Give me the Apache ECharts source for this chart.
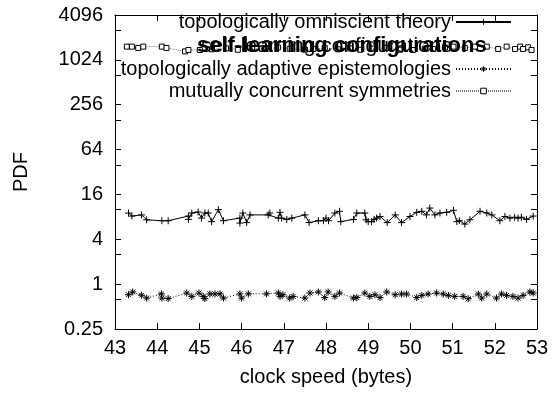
<!DOCTYPE html>
<html>
<head>
<meta charset="utf-8">
<script src="https://cdn.jsdelivr.net/npm/echarts@6/dist/echarts.min.js"></script>
<style>
  html, body { margin: 0; padding: 0; background: #fff; }
  #main { width: 553px; height: 395px; }
</style>
</head>
<body>
<div id="main"></div>
<script>
// topologically omniscient theory  [clock speed, PDF]
const omniscientX = [43.32, 43.40, 43.63, 43.75, 44.11, 44.26, 44.74, 44.74, 44.82, 44.97, 45.05, 45.13, 45.21, 45.29, 45.45, 45.57, 45.96, 45.96, 46.03, 46.12, 46.20, 46.63, 46.67, 46.87, 46.91, 46.95, 47.07, 47.19, 47.50, 47.60, 47.82, 47.94, 48.00, 48.06, 48.21, 48.32, 48.35, 48.65, 48.73, 48.92, 48.95, 49.00, 49.08, 49.14, 49.20, 49.28, 49.45, 49.64, 49.79, 49.99, 50.15, 50.27, 50.38, 50.46, 50.58, 50.70, 50.86, 51.02, 51.10, 51.16, 51.29, 51.41, 51.65, 51.81, 51.93, 52.12, 52.24, 52.36, 52.47, 52.55, 52.63, 52.75, 52.91];
const omniscientY = [9.0, 8.2, 8.5, 7.3, 7.1, 7.1, 8.2, 7.4, 9.0, 9.3, 7.7, 9.0, 9.0, 6.9, 10.0, 7.1, 7.7, 6.6, 9.0, 6.7, 8.5, 8.5, 9.0, 7.7, 9.2, 7.7, 7.4, 7.7, 8.5, 6.7, 7.1, 7.1, 7.7, 7.1, 9.0, 9.5, 6.9, 7.4, 9.0, 9.0, 7.3, 6.9, 6.9, 7.4, 7.7, 8.1, 6.7, 8.5, 6.7, 8.1, 9.2, 9.5, 8.5, 10.5, 8.5, 9.0, 9.2, 9.8, 6.9, 7.1, 6.4, 7.3, 9.5, 9.0, 8.5, 7.1, 8.1, 7.7, 7.9, 7.7, 7.9, 7.4, 8.2];

// topologically adaptive epistemologies
const adaptiveX = [43.32, 43.42, 43.63, 43.75, 44.10, 44.11, 44.26, 44.70, 44.82, 44.99, 45.09, 45.13, 45.25, 45.37, 45.49, 45.57, 45.96, 46.00, 46.16, 46.59, 46.87, 46.91, 46.98, 47.14, 47.22, 47.50, 47.62, 47.82, 47.97, 48.05, 48.21, 48.32, 48.65, 48.73, 48.92, 49.04, 49.16, 49.28, 49.44, 49.64, 49.79, 49.91, 50.15, 50.27, 50.42, 50.62, 50.78, 50.90, 51.05, 51.25, 51.37, 51.61, 51.69, 51.81, 52.04, 52.16, 52.28, 52.43, 52.55, 52.67, 52.83, 52.91];
const adaptiveY = [0.72, 0.785, 0.71, 0.65, 0.74, 0.65, 0.64, 0.76, 0.685, 0.76, 0.685, 0.64, 0.74, 0.74, 0.74, 0.65, 0.74, 0.65, 0.74, 0.74, 0.76, 0.685, 0.72, 0.65, 0.685, 0.65, 0.76, 0.785, 0.66, 0.785, 0.685, 0.76, 0.65, 0.66, 0.76, 0.685, 0.72, 0.66, 0.785, 0.72, 0.737, 0.737, 0.66, 0.707, 0.737, 0.76, 0.737, 0.707, 0.685, 0.685, 0.637, 0.737, 0.65, 0.737, 0.65, 0.737, 0.707, 0.685, 0.65, 0.707, 0.785, 0.76];

// mutually concurrent symmetries
const symmetriesX = [43.28, 43.40, 43.55, 43.67, 44.11, 44.22, 44.66, 44.74, 45.01, 45.30, 45.63, 45.91, 46.25, 46.55, 46.86, 47.14, 47.50, 47.70, 47.97, 48.28, 48.57, 48.81, 49.12, 49.42, 49.75, 50.06, 50.34, 50.54, 50.82, 51.02, 51.29, 51.53, 51.81, 52.08, 52.28, 52.48, 52.60, 52.67, 52.79, 52.87];
const symmetriesY = [1541, 1541, 1480, 1541, 1541, 1480, 1330, 1390, 1390, 1420, 1460, 1400, 1480, 1430, 1500, 1440, 1400, 1434, 1480, 1420, 1460, 1400, 1450, 1480, 1400, 1390, 1450, 1434, 1500, 1541, 1480, 1541, 1541, 1434, 1541, 1434, 1541, 1434, 1509, 1390];

const yTicks = [0.25, 1, 4, 16, 64, 256, 1024, 4096];

const FONT = 'Liberation Sans, Arial, Helvetica, sans-serif';
const plusSym = 'path://M0,5L10,5M5,0L5,10';
const starSym = 'path://M0,5L10,5M5,0L5,10M1.5,1.5L8.5,8.5M8.5,1.5L1.5,8.5';

function zip(xs, ys) {
    return xs.map((x, i) => [x, ys[i]]);
}

let chart = echarts.init(document.getElementById('main'), null, { renderer: 'canvas' });

let labelStyle = { color: '#000', fontSize: 20, fontFamily: FONT };
let tickStyle = { show: true, inside: true, length: 6, lineStyle: { color: '#000', width: 1 } };
let minorStyle = { show: true, splitNumber: 2, length: 6, lineStyle: { color: '#000', width: 1 } };

function legendRow(name, top) {
    return {
        data: [name],
        orient: 'vertical',
        right: 41,
        top: top,
        align: 'right',
        itemWidth: 55,
        itemHeight: 7,
        padding: 0,
        selectedMode: false,
        itemStyle: { borderWidth: 1 },
        textStyle: { color: '#000', fontSize: 20, fontFamily: FONT, lineHeight: 20 }
    };
}

let option = {
    backgroundColor: '#fff',
    animation: false,
    grid: { left: 115, right: 16, top: 15, bottom: 66 },
    legend: [
        legendRow('topologically omniscient theory', 12),
        legendRow('topologically adaptive epistemologies', 59),
        legendRow('mutually concurrent symmetries', 81)
    ],
    xAxis: [{
        type: 'value', min: 43, max: 53, interval: 1,
        name: 'clock speed (bytes)', nameLocation: 'middle', nameGap: 38,
        nameTextStyle: labelStyle,
        axisLine: { show: true, lineStyle: { color: '#000', width: 1 } },
        axisTick: tickStyle,
        axisLabel: Object.assign({ margin: 9 }, labelStyle),
        splitLine: { show: false }
    }, {
        type: 'value', min: 43, max: 53, interval: 1, position: 'top',
        axisLine: { show: true, onZero: false, lineStyle: { color: '#000', width: 1 } },
        axisTick: tickStyle,
        axisLabel: { show: false },
        splitLine: { show: false }
    }],
    yAxis: [{
        type: 'log', logBase: 4, min: 0.25, max: 4096,
        name: 'PDF', nameLocation: 'middle', nameGap: 84, nameRotate: 90,
        nameTextStyle: labelStyle,
        axisLine: { show: true, lineStyle: { color: '#000', width: 1 } },
        axisTick: tickStyle,
        minorTick: minorStyle,
        axisLabel: Object.assign({ margin: 12, formatter: v => {
            let t = yTicks.find(k => Math.abs(k - v) / k < 1e-6);
            return t === undefined ? '' : String(t);
        } }, labelStyle),
        splitLine: { show: false }
    }, {
        type: 'log', logBase: 4, min: 0.25, max: 4096, position: 'right',
        axisLine: { show: true, onZero: false, lineStyle: { color: '#000', width: 1 } },
        axisTick: tickStyle,
        minorTick: minorStyle,
        axisLabel: { show: false },
        splitLine: { show: false }
    }],
    graphic: [
        { type: 'text', left: 201, top: 36, z: 50, style: { text: 'self-learning configurations', fill: '#000', font: '21px ' + FONT } },
        { type: 'text', left: 197, top: 35, z: 50, style: { text: 'self-learning configurations', fill: '#000', font: 'bold 22px ' + FONT } }
    ],
    series: [{
        name: 'topologically omniscient theory',
        type: 'line',
        data: zip(omniscientX, omniscientY),
        symbol: plusSym, symbolSize: 7, showSymbol: true,
        itemStyle: { color: '#000', borderColor: '#000', borderWidth: 1 },
        lineStyle: { color: '#000', width: 1 }
    }, {
        name: 'topologically adaptive epistemologies',
        type: 'line',
        data: zip(adaptiveX, adaptiveY),
        symbol: starSym, symbolSize: 7, showSymbol: true,
        itemStyle: { color: '#000', borderColor: '#000', borderWidth: 1 },
        lineStyle: { color: '#000', width: 1, type: [1, 2] }
    }, {
        name: 'mutually concurrent symmetries',
        type: 'line',
        data: zip(symmetriesX, symmetriesY),
        symbol: 'rect', symbolSize: 5, showSymbol: true,
        itemStyle: { color: '#fff', borderColor: '#000', borderWidth: 1 },
        lineStyle: { color: '#777', width: 1, type: [1, 1] }
    }]
};

chart.setOption(option);
</script>
</body>
</html>
